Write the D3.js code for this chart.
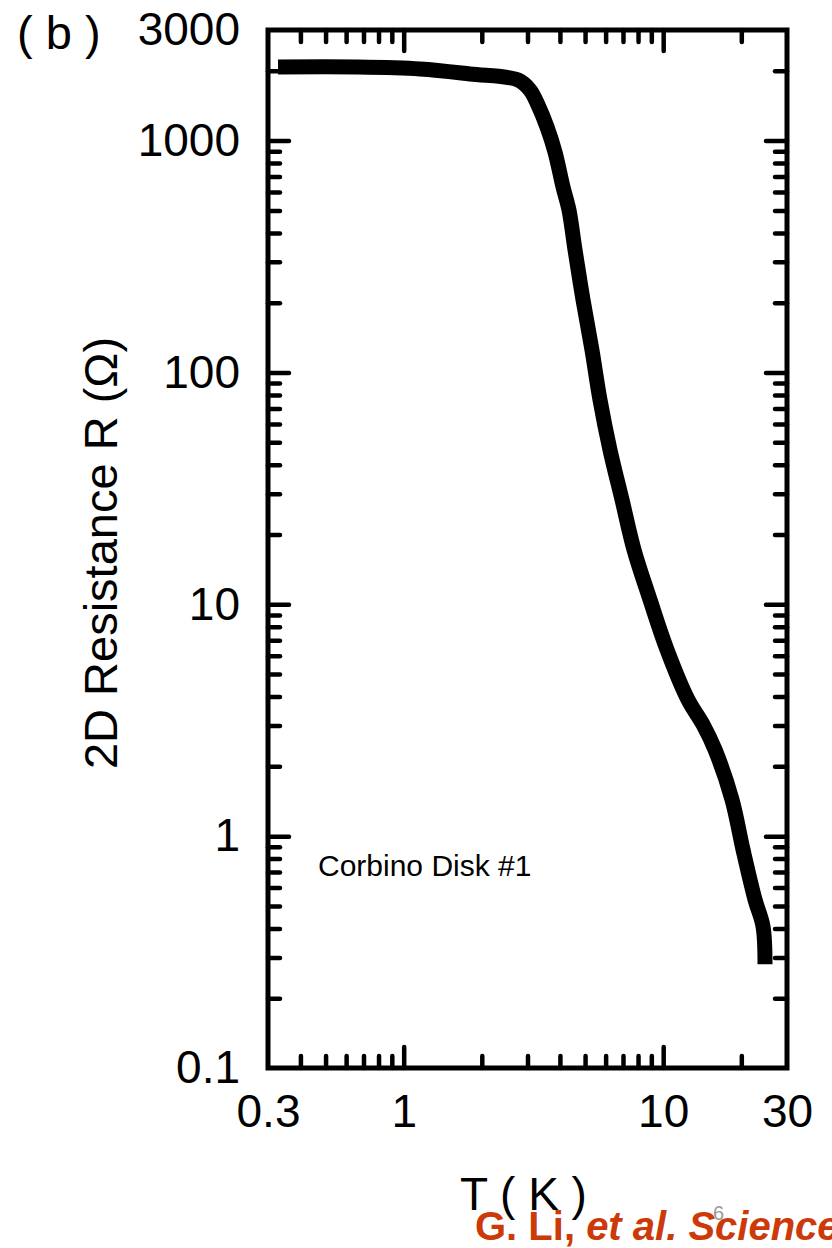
<!DOCTYPE html>
<html>
<head>
<meta charset="utf-8">
<script src="https://cdn.jsdelivr.net/npm/d3@7"></script>
<style>
  html, body { margin: 0; padding: 0; background: #fff; }
  svg { display: block; font-family: "Liberation Sans", Arial, sans-serif; }
</style>
</head>
<body>
<svg id="chart" width="832" height="1248"></svg>
<script>
// ---- data ----
const temperatureK = [0.328, 0.661, 1.156, 1.801, 2.757, 3.066, 3.293, 3.566, 3.828, 4.111, 4.335, 4.573, 4.909, 5.316, 5.708, 6.237, 6.937, 7.718, 8.895, 10.34, 12.46, 14.24, 15.84, 18.41, 20.30, 22.58, 24.25, 24.68];
const resistanceOhm = [2077, 2077, 2037, 1938, 1826, 1654, 1425, 1146, 894, 631, 502, 338, 206, 125, 76.2, 46.4, 28.3, 17.2, 10.47, 6.38, 3.88, 3.03, 2.36, 1.44, 0.876, 0.533, 0.408, 0.28];

const xLabels = [0.3, 1, 10, 30];
const xMajorTicks = [1, 10];
const xMinorTicks = [0.4, 0.5, 0.6, 0.7, 0.8, 0.9, 2, 3, 4, 5, 6, 7, 8, 9, 20];
const yLabels = [0.1, 1, 10, 100, 1000, 3000];
const yMajorTicks = [1, 10, 100, 1000];
const yMinorTicks = [0.2,0.3,0.4,0.5,0.6,0.7,0.8,0.9, 2,3,4,5,6,7,8,9, 20,30,40,50,60,70,80,90, 200,300,400,500,600,700,800,900, 2000];

// ---- layout ----
const L = 268, R = 787, T = 30, B = 1068;
const svg = d3.select("#chart");
svg.append("rect").attr("width", 832).attr("height", 1248).attr("fill", "#fff");

const x = d3.scaleLog().domain([0.3, 30]).range([L, R]);
const y = d3.scaleLog().domain([0.1, 3000]).range([B, T]);

const majorLen = 21, minorLen = 12;
function styleTicks(g) {
  g.select(".domain").remove();
  g.selectAll(".tick text").remove();
  g.selectAll(".tick line").attr("stroke", "#000").attr("stroke-width", 4.5).attr("stroke-linecap", "round");
}

// ticks, inward on all four sides
svg.append("g").attr("transform", `translate(0,${B})`).call(d3.axisBottom(x).tickValues(xMajorTicks).tickSize(-majorLen)).call(styleTicks);
svg.append("g").attr("transform", `translate(0,${B})`).call(d3.axisBottom(x).tickValues(xMinorTicks).tickSize(-minorLen)).call(styleTicks);
svg.append("g").attr("transform", `translate(0,${T})`).call(d3.axisTop(x).tickValues(xMajorTicks).tickSize(-majorLen)).call(styleTicks);
svg.append("g").attr("transform", `translate(0,${T})`).call(d3.axisTop(x).tickValues(xMinorTicks).tickSize(-minorLen)).call(styleTicks);
svg.append("g").attr("transform", `translate(${L},0)`).call(d3.axisLeft(y).tickValues(yMajorTicks).tickSize(-majorLen)).call(styleTicks);
svg.append("g").attr("transform", `translate(${L},0)`).call(d3.axisLeft(y).tickValues(yMinorTicks).tickSize(-minorLen)).call(styleTicks);
svg.append("g").attr("transform", `translate(${R},0)`).call(d3.axisRight(y).tickValues(yMajorTicks).tickSize(-majorLen)).call(styleTicks);
svg.append("g").attr("transform", `translate(${R},0)`).call(d3.axisRight(y).tickValues(yMinorTicks).tickSize(-minorLen)).call(styleTicks);

// frame
svg.append("rect").attr("x", L).attr("y", T).attr("width", R - L).attr("height", B - T)
  .attr("fill", "none").attr("stroke", "#000").attr("stroke-width", 5);

// tick labels
function styleLabels(g) {
  g.select(".domain").remove();
  g.selectAll(".tick line").remove();
  g.selectAll(".tick text").attr("fill", "#000").attr("font-size", 46)
    .attr("font-family", "'Liberation Sans', Arial, sans-serif");
}
svg.append("g").attr("transform", `translate(0,${B})`)
  .call(d3.axisBottom(x).tickValues(xLabels).tickSize(0).tickPadding(26).tickFormat(d => String(d)))
  .call(styleLabels);
svg.append("g").attr("transform", `translate(${L},0)`)
  .call(d3.axisLeft(y).tickValues(yLabels).tickSize(0).tickPadding(28).tickFormat(d => String(d)))
  .call(styleLabels);

// curve
const line = d3.line()
  .x((d, i) => x(temperatureK[i]))
  .y((d, i) => y(resistanceOhm[i]))
  .curve(d3.curveCatmullRom.alpha(0.5));
svg.append("path").datum(temperatureK).attr("d", line)
  .attr("fill", "none").attr("stroke", "#000").attr("stroke-width", 15)
  .attr("stroke-linejoin", "round").attr("stroke-linecap", "butt");

// texts
svg.append("text").attr("x", 17).attr("y", 49).attr("font-size", 47).attr("fill", "#000")
  .style("white-space", "pre").text("( b )");
svg.append("text").attr("transform", "translate(117,553) rotate(-90)").attr("text-anchor", "middle")
  .attr("font-size", 47).attr("fill", "#000").text("2D Resistance R (Ω)");
svg.append("text").attr("x", 460).attr("y", 1210).attr("font-size", 46).attr("fill", "#000")
  .style("white-space", "pre").text("T ( K )");
svg.append("text").attr("x", 318).attr("y", 876).attr("font-size", 30).attr("fill", "#000")
  .text("Corbino Disk #1");

const cite = svg.append("text").attr("x", 475).attr("y", 1240).attr("font-size", 40)
  .attr("font-weight", "bold").attr("fill", "#cc3a0a");
cite.append("tspan").text("G. Li, ");
cite.append("tspan").attr("font-style", "italic").text("et al. Science");

svg.append("text").attr("x", 713).attr("y", 1220).attr("font-size", 20).attr("fill", "#999").text("6");
</script>
</body>
</html>
